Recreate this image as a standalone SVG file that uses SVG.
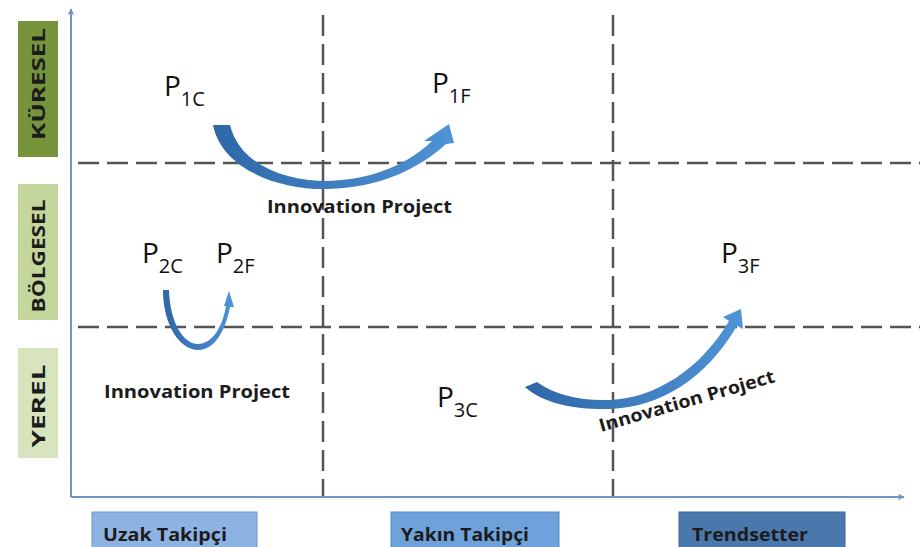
<svg xmlns="http://www.w3.org/2000/svg" width="920" height="547" viewBox="0 0 920 547">
<style>
.dash{stroke:#555;stroke-width:2.5;stroke-dasharray:21 8;fill:none}
.axis{stroke:#6f95c6;stroke-width:2;fill:none}
.lbl{font-family:"Open Sans","Liberation Sans",sans-serif;font-weight:bold;font-size:18px;fill:#1c1c1c}
.cat{font-family:"Open Sans","Liberation Sans",sans-serif;font-weight:bold;font-size:18px;fill:#1c1c1c}
.ip{font-family:"Open Sans","Liberation Sans",sans-serif;font-weight:bold;font-size:18px;fill:#1c1c1c}
.p{font-family:"Open Sans","Liberation Sans",sans-serif;font-size:28px;fill:#111}
.sub{font-size:20px}
</style>
<defs>
<marker id="ah" viewBox="0 0 10 10" refX="9" refY="5" markerWidth="7" markerHeight="7" orient="auto" markerUnits="userSpaceOnUse">
<path d="M0,0 L10,5 L0,10 L3,5 Z" fill="#6f95c6"/>
</marker>
<linearGradient id="g1" x1="0" y1="0" x2="1" y2="0">
<stop offset="0" stop-color="#2f67a8"/><stop offset="1" stop-color="#4e94d6"/>
</linearGradient>
</defs>
<rect width="920" height="547" fill="#fff"/>

<g id="grid">
<line class="dash" x1="78" y1="163" x2="920" y2="163"/>
<line class="dash" x1="78" y1="327" x2="920" y2="327"/>
<line class="dash" x1="323" y1="15" x2="323" y2="496"/>
<line class="dash" x1="613" y1="15" x2="613" y2="496"/>
</g>

<g id="axes">
<line class="axis" x1="71" y1="497" x2="71" y2="9" marker-end="url(#ah)"/>
<line class="axis" x1="71" y1="497" x2="904" y2="497" marker-end="url(#ah)"/>
</g>

<g id="kuresel">
<rect x="18" y="21" width="40" height="136" fill="#77933c"/>
<text class="lbl" transform="translate(45,84) rotate(-90)" text-anchor="middle" textLength="112" lengthAdjust="spacingAndGlyphs">KÜRESEL</text>
</g>
<g id="bolgesel">
<rect x="18" y="184" width="40" height="136" fill="#c3d69b"/>
<text class="lbl" transform="translate(45,256) rotate(-90)" text-anchor="middle" textLength="113" lengthAdjust="spacingAndGlyphs">BÖLGESEL</text>
</g>
<g id="yerel">
<rect x="18" y="348" width="40" height="110" fill="#d7e4bd"/>
<text class="lbl" transform="translate(45,406) rotate(-90)" text-anchor="middle" textLength="83" lengthAdjust="spacingAndGlyphs">YEREL</text>
</g>

<g id="uzak">
<rect x="92" y="512" width="165" height="40" fill="#8db3e2" stroke="#6d98cc" stroke-width="1"/>
<text class="cat" x="103" y="541" textLength="124" lengthAdjust="spacingAndGlyphs">Uzak Takipçi</text>
</g>
<g id="yakin">
<rect x="391" y="512" width="168" height="40" fill="#6fa2da" stroke="#5a8ac4" stroke-width="1"/>
<text class="cat" x="401" y="541" textLength="128" lengthAdjust="spacingAndGlyphs">Yakın Takipçi</text>
</g>
<g id="trendsetter">
<rect x="679" y="512" width="166" height="40" fill="#4a78ad" stroke="#3d6796" stroke-width="1"/>
<text class="cat" x="692" y="541" textLength="116" lengthAdjust="spacingAndGlyphs">Trendsetter</text>
</g>

<g id="p1c"><text class="p" x="164" y="96">P<tspan class="sub" dy="10">1C</tspan></text></g>
<g id="p1f"><text class="p" x="432" y="93">P<tspan class="sub" dy="10">1F</tspan></text></g>
<g id="p2c"><text class="p" x="142" y="263">P<tspan class="sub" dy="10">2C</tspan></text></g>
<g id="p2f"><text class="p" x="216" y="263">P<tspan class="sub" dy="10">2F</tspan></text></g>
<g id="p3f"><text class="p" x="721" y="263">P<tspan class="sub" dy="10">3F</tspan></text></g>
<g id="p3c"><text class="p" x="437" y="407">P<tspan class="sub" dy="10">3C</tspan></text></g>

<g id="connectors">
<path fill="url(#g1)" d="M213,125 C222,170 280,190 327,189 C380,188 420,168 446,144 L454,143 L449,124 L424,141 L432,141 C410,162 375,180 327,181 C285,181 240,165 230,125 Z"/>
<path fill="url(#g1)" d="M163,290 C163,325 180,350 198,350 C216,350 226,328 230,307 L234,307 L229,291 L224,306 L226,306 C223,325 213,344 198,344 C183,344 170,322 169,290 Z"/>
<path fill="url(#g1)" d="M525,387 C545,405 580,410 610,409 C660,407 705,380 737,326 L743,329 L741,309 L723,317 L729,321 C700,370 655,398 610,400 C580,401 555,395 537,382 Z"/>
<text class="ip" x="267" y="213" textLength="185" lengthAdjust="spacingAndGlyphs">Innovation Project</text>
<text class="ip" x="104" y="398" textLength="186" lengthAdjust="spacingAndGlyphs">Innovation Project</text>
<text class="ip" transform="translate(601,432) rotate(-16)" textLength="182" lengthAdjust="spacingAndGlyphs">Innovation Project</text>
</g>
</svg>
